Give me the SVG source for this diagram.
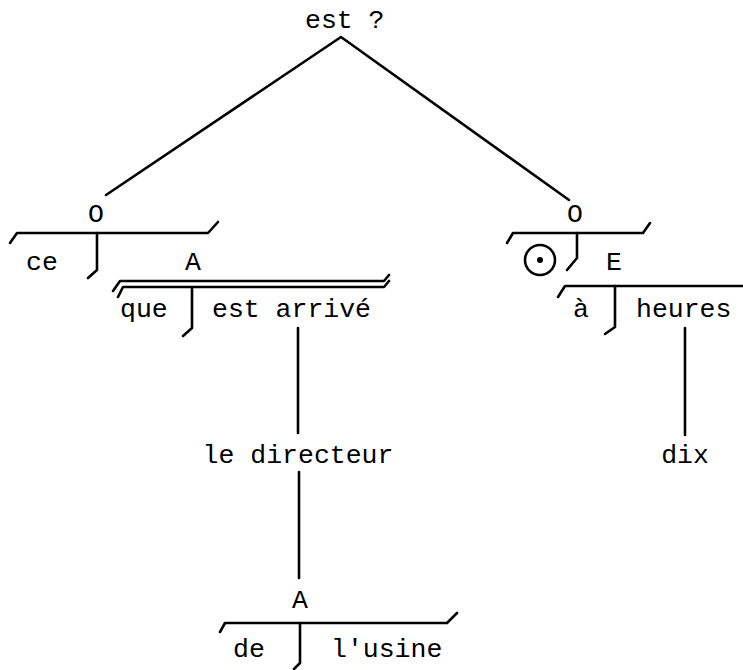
<svg xmlns="http://www.w3.org/2000/svg" width="743" height="670" viewBox="0 0 743 670">
<style>
.t{font-family:"Liberation Mono","DejaVu Sans Mono",monospace;font-size:26.5px;fill:#000}
.m{text-anchor:middle}
.l{fill:none;stroke:#000;stroke-width:2.6;stroke-linejoin:round;stroke-linecap:round}
</style>
<rect width="743" height="670" fill="#fff"/>
<g id="connectors">
<polyline class="l" points="106,195 341,37 569,200"/>
<line class="l" x1="298" y1="328" x2="298" y2="433"/>
<line class="l" x1="299" y1="472" x2="299" y2="578"/>
<line class="l" x1="685" y1="328" x2="685" y2="435"/>
</g>
<g id="n-est">
<text class="t" x="305" y="28">est ?</text>
</g>
<g id="n-O-left">
<text class="t m" x="96" y="222">O</text>
<polyline class="l" points="10,243 17,233 208,233 218,222"/>
<polyline class="l" points="97,233 97,270 88,278"/>
<text class="t" x="26" y="270">ce</text>
</g>
<g id="n-A-que">
<text class="t m" x="193" y="270">A</text>
<polyline class="l" points="113,291 120,281 384,281 389,275"/>
<polyline class="l" points="118,297 123,287 384,287 389,281"/>
<polyline class="l" points="192,287 192,328 183,336"/>
<text class="t" x="120" y="317">que</text>
<text class="t" x="212" y="317">est arrivé</text>
</g>
<g id="n-O-right">
<text class="t m" x="575" y="222">O</text>
<polyline class="l" points="507,243 513,233 643,233 650,223"/>
<polyline class="l" points="577,233 577,258 567,270"/>
<circle cx="540" cy="260" r="15" fill="none" stroke="#000" stroke-width="2.6"/>
<circle cx="540" cy="260" r="3" fill="#000"/>
</g>
<g id="n-E-heures">
<text class="t m" x="614" y="270">E</text>
<polyline class="l" points="558,297 565,286 743,286"/>
<polyline class="l" points="615,286 615,327 605,334"/>
<text class="t m" x="581" y="317">à</text>
<text class="t" x="636" y="317">heures</text>
</g>
<g id="n-directeur">
<text class="t m" x="298" y="463">le directeur</text>
</g>
<g id="n-dix">
<text class="t m" x="685" y="463">dix</text>
</g>
<g id="n-A-usine">
<text class="t m" x="300" y="608">A</text>
<polyline class="l" points="220,632 225,623 447,623 457,613"/>
<polyline class="l" points="300,623 300,663 294,669"/>
<text class="t" x="233" y="657">de</text>
<text class="t" x="331" y="657">l'usine</text>
</g>
</svg>
